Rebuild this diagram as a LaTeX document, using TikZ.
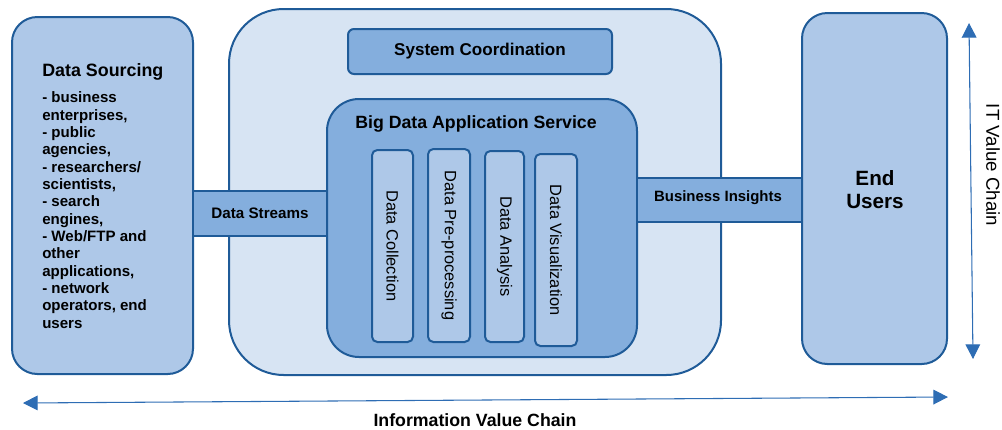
\documentclass[tikz,border=0pt]{standalone}
\usepackage{fontspec}
\setmainfont{Liberation Sans}
\usetikzlibrary{fit,arrows.meta}

\definecolor{edge}{HTML}{1F5B98}
\definecolor{paleblue}{HTML}{D7E4F3}
\definecolor{lightblue}{HTML}{AEC8E8}
\definecolor{midblue}{HTML}{84AEDD}
\definecolor{arrowblue}{HTML}{2E6DB4}

\begin{document}
\begin{tikzpicture}[x=0.75pt,y=-0.75pt,
  box/.style={draw=edge, line width=1.5pt, rounded corners=#1,
    inner sep=0pt, outer sep=0pt},
  box/.default=4pt,
  band/.style={draw=edge, line width=1.5pt, fill=midblue,
    inner sep=0pt, outer sep=0pt},
  label/.style={inner sep=0pt, text=black},
  vlabel/.style={label, rotate=-90, font=\fontsize{12.3}{14}\selectfont},
  chain/.style={draw=arrowblue, line width=0.8pt,
    {Triangle[length=11pt,width=11pt]}-{Triangle[length=11pt,width=11pt]}}
]
\useasboundingbox (0,0) rectangle (1002,429);

% corner points of the boxes
\coordinate (srcA) at (12,17);    \coordinate (srcB) at (193,374);
\coordinate (sysA) at (229,9);    \coordinate (sysB) at (721,375);
\coordinate (crdA) at (348,29);   \coordinate (crdB) at (612,74);
\coordinate (appA) at (327,99);   \coordinate (appB) at (637,357);
\coordinate (usrA) at (802,13);   \coordinate (usrB) at (947,364);
\coordinate (dsTop) at (0,191);   \coordinate (dsBot) at (0,236);
\coordinate (biTop) at (0,178);   \coordinate (biBot) at (0,222);

% main blocks
\node[box=19pt, fill=lightblue, fit=(srcA)(srcB)] (src) {};
\node[box=41pt, fill=paleblue, fit=(sysA)(sysB)] (sys) {};
\node[box=19pt, fill=lightblue, fit=(usrA)(usrB)] (usr) {};
\node[box=4.5pt, fill=midblue, fit=(crdA)(crdB)] (crd) {};
\node[box=24pt, fill=midblue, fit=(appA)(appB)] (app) {};

% bands joining the blocks
\node[band, fit=(src.east|-dsTop)(app.west|-dsBot)] (streams) {};
\node[band, fit=(app.east|-biTop)(usr.west|-biBot)] (insights) {};

% processing steps
\coordinate (c1A) at (372,150); \coordinate (c1B) at (413,342);
\coordinate (c2A) at (428,149); \coordinate (c2B) at (470,342);
\coordinate (c3A) at (485,151); \coordinate (c3B) at (524,342);
\coordinate (c4A) at (535,154); \coordinate (c4B) at (577,346);
\node[box=4pt, fill=lightblue, fit=(c1A)(c1B)] (col1) {};
\node[box=4pt, fill=lightblue, fit=(c2A)(c2B)] (col2) {};
\node[box=4pt, fill=lightblue, fit=(c3A)(c3B)] (col3) {};
\node[box=4pt, fill=lightblue, fit=(c4A)(c4B)] (col4) {};
\node[vlabel] (t1) at (col1.center) {Data Collection};
\node[vlabel] (t2) at (col2.center) {Data Pre-processing};
\node[vlabel] (t3) at (col3.center) {Data Analysis};
\node[vlabel] (t4) at (col4.center) {Data Visualization};

% texts
\node[label, anchor=base west, font=\bfseries\fontsize{13.4}{15}\selectfont]
  (srcTitle) at (42,76) {Data Sourcing};
\node[label, anchor=base west, align=left,
  font=\bfseries\fontsize{11.3}{13}\selectfont] (srcList) at (42,328)
  {- business\\enterprises,\\- public\\agencies,\\- researchers/\\scientists,\\- search\\engines,\\- Web/FTP and\\other\\applications,\\- network\\operators, end\\users};
\node[label, font=\bfseries\fontsize{12.8}{14}\selectfont] (crdText)
  at (crd.center) {System Coordination};
\node[label, font=\bfseries\fontsize{13.3}{15}\selectfont] (appTitle)
  at (476,124) {Big Data Application Service};
\node[label, font=\bfseries\fontsize{11.4}{13}\selectfont] (dsText)
  at (streams.center) {Data Streams};
\node[label, font=\bfseries\fontsize{11.2}{13}\selectfont] (biText)
  at (718,198) {Business Insights};
\node[label, align=center, font=\bfseries\fontsize{15.5}{17.3}\selectfont]
  (usrText) at (875,190) {End\\Users};

% value chain axes
\coordinate (itTop) at (969,23);  \coordinate (itBot) at (973,359);
\coordinate (ivL) at (23,403);    \coordinate (ivR) at (948,397);
\draw[chain] (itBot) -- (itTop);
\draw[chain] (ivL) -- (ivR);
\node[label, rotate=-90, font=\fontsize{14}{16}\selectfont] (itText)
  at (993,165) {IT Value Chain};
\node[label, font=\bfseries\fontsize{13.3}{15}\selectfont] (ivText)
  at (475,420) {Information Value Chain};
\end{tikzpicture}
\end{document}
